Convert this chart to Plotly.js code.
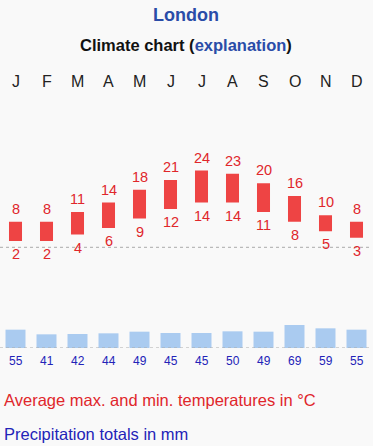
<!DOCTYPE html>
<html><head><meta charset="utf-8">
<script src="https://cdn.plot.ly/plotly-3.0.1.min.js"></script>
<style>html,body{margin:0;padding:0;background:#f9f9f9;}#chart{width:373px;height:446px;}</style>
</head><body><div id="chart"></div>
<script>
const months = ["J","F","M","A","M","J","J","A","S","O","N","D"];
const tempMax = [8,8,11,14,18,21,24,23,20,16,10,8];
const tempMin = [2,2,4,6,9,12,14,14,11,8,5,3];
const precip = [55,41,42,44,49,45,45,50,49,69,59,55];

const H = 446;
const py = p => 1 - p / H;
const xs = months.map((m, i) => i);
const font = "Liberation Sans, Arial, sans-serif";
const red = "#e0262b";
const blue = "#2323b8";

const traces = [
  {type: "bar", x: xs, y: tempMax.map((v, i) => v - tempMin[i]), base: tempMin,
   width: 0.42, marker: {color: "#ee4444"}, yaxis: "y", hoverinfo: "skip"},
  {type: "bar", x: xs, y: precip, width: 0.645, marker: {color: "#aacbf0"},
   yaxis: "y2", hoverinfo: "skip"}
];

const ann = [];
ann.push({xref: "paper", yref: "paper", x: 0.5, y: py(15), text: "<b>London</b>",
  showarrow: false, font: {family: font, size: 18, color: "#2a4ca8"}, yanchor: "middle"});
ann.push({xref: "paper", yref: "paper", x: 0.5, y: py(45),
  text: "<b>Climate chart (<span style='color:#2a4ca8'>explanation</span>)</b>",
  showarrow: false, font: {family: font, size: 16.5, color: "#111"}, yanchor: "middle"});
months.forEach((m, i) => {
  ann.push({xref: "x", yref: "paper", x: i, y: py(82), text: m, showarrow: false,
    font: {family: font, size: 16, color: "#222"}, yanchor: "middle"});
  ann.push({xref: "x", yref: "y", x: i, y: tempMax[i], yshift: 13, text: String(tempMax[i]),
    showarrow: false, font: {family: font, size: 14.5, color: red}, yanchor: "middle"});
  ann.push({xref: "x", yref: "y", x: i, y: tempMin[i], yshift: -13, text: String(tempMin[i]),
    showarrow: false, font: {family: font, size: 14.5, color: red}, yanchor: "middle"});
  ann.push({xref: "x", yref: "paper", x: i, y: py(361), text: String(precip[i]), showarrow: false,
    font: {family: font, size: 12, color: blue}, yanchor: "middle"});
});
ann.push({xref: "paper", yref: "paper", x: 0.005, y: py(400), xanchor: "left", yanchor: "middle",
  text: "Average max. and min. temperatures in °C", showarrow: false,
  font: {family: font, size: 16.5, color: red}});
ann.push({xref: "paper", yref: "paper", x: 0.005, y: py(434), xanchor: "left", yanchor: "middle",
  text: "Precipitation totals in mm", showarrow: false,
  font: {family: font, size: 16.5, color: blue}});

const layout = {
  width: 373, height: 446,
  margin: {l: 0, r: 1, t: 0, b: 0},
  paper_bgcolor: "#f9f9f9", plot_bgcolor: "rgba(0,0,0,0)",
  showlegend: false, barmode: "overlay",
  xaxis: {range: [-0.5, 11.5], visible: false, fixedrange: true},
  yaxis: {range: [-5, 30], domain: [py(263.3), py(151.3)], visible: false, fixedrange: true},
  yaxis2: {range: [0, 90], domain: [py(348), py(318)], visible: false, fixedrange: true},
  shapes: [
    {type: "line", xref: "paper", yref: "y", x0: 0, x1: 1, y0: 0, y1: 0,
     line: {color: "#aaaaaa", width: 1, dash: "dot"}},
    {type: "line", xref: "paper", yref: "y2", x0: 0, x1: 1, y0: 0, y1: 0,
     line: {color: "#aaaaaa", width: 1, dash: "dot"}}
  ],
  annotations: ann
};
Plotly.newPlot("chart", traces, layout, {displayModeBar: false, staticPlot: true});
</script></body></html>
